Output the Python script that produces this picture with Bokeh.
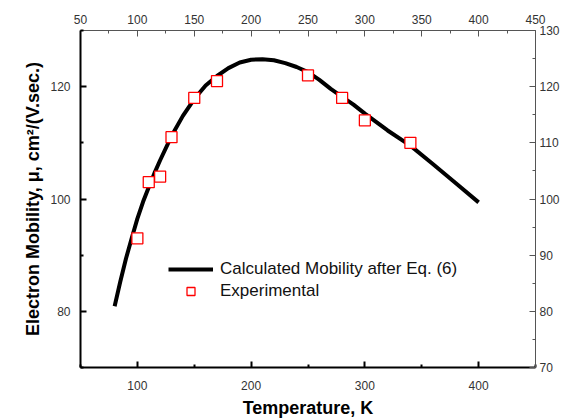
from bokeh.plotting import figure
from bokeh.models import LinearAxis, FixedTicker, Range1d, Legend, LegendItem
from bokeh.embed import file_html
from bokeh.resources import INLINE

# Calculated mobility curve (Eq. 6)
calc_T = [80, 85, 90, 95, 100, 105, 110, 115, 120, 130, 140, 150, 160, 170, 180, 190, 200,
          210, 220, 230, 240, 250, 260, 270, 280, 290, 300, 320, 340, 360, 380, 400]
calc_mu = [80.9, 85.3, 89.4, 93.0, 96.5, 99.5, 102.1, 104.6, 106.9, 111.2, 114.8, 117.8, 120.2,
           121.9, 123.3, 124.3, 124.8, 124.9, 124.7, 124.2, 123.5, 122.6, 121.2,
           119.6, 118.2, 116.8, 115.2, 112.2, 109.5, 106.2, 102.8, 99.4]

# Experimental points
exp_T = [100, 110, 120, 130, 150, 170, 250, 280, 300, 340]
exp_mu = [93, 103, 104, 111, 118, 121, 122, 118, 114, 110]

bottom_ticks = [100, 200, 300, 400]
bottom_minor = [50, 150, 250, 350, 450]
top_ticks = [50, 100, 150, 200, 250, 300, 350, 400, 450]
top_minor = [75, 125, 175, 225, 275, 325, 375, 425]
left_ticks = [80, 100, 120]
left_minor = [70, 90, 110, 130]
right_ticks = [70, 80, 90, 100, 110, 120, 130]
right_minor = [75, 85, 95, 105, 115, 125]

FONT = "Liberation Sans"

p = figure(width=564, height=420, x_range=Range1d(50, 450), y_range=Range1d(70, 130),
           output_backend="svg", toolbar_location=None,
           min_border_left=80, min_border_right=29, min_border_top=30, min_border_bottom=53)
p.grid.visible = False
p.outline_line_color = None
p.background_fill_color = "white"
p.border_fill_color = "white"

def style_axis(ax, major, minor, width, color, standoff):
    ax.ticker = FixedTicker(ticks=major, minor_ticks=minor)
    ax.axis_line_width = width
    ax.axis_line_color = color
    ax.major_tick_line_color = color
    ax.minor_tick_line_color = color
    ax.major_tick_line_width = width
    ax.minor_tick_line_width = width
    ax.major_tick_in = 6
    ax.major_tick_out = 0
    ax.minor_tick_in = 3
    ax.minor_tick_out = 0
    ax.major_label_text_font = FONT
    ax.major_label_text_font_size = "12px"
    ax.major_label_text_color = "#333333"
    ax.major_label_standoff = standoff

xb = p.xaxis[0]
style_axis(xb, bottom_ticks, bottom_minor, 2, "black", 13)
xb.axis_label = "Temperature, K"
xb.axis_label_text_font = FONT
xb.axis_label_text_font_style = "bold"
xb.axis_label_text_font_size = "18px"
xb.axis_label_text_color = "black"
xb.axis_label_standoff = 5

yl = p.yaxis[0]
style_axis(yl, left_ticks, left_minor, 2, "black", 10)
yl.axis_label = "Electron Mobility, μ, cm²/(V.sec.)"
yl.axis_label_text_font = FONT
yl.axis_label_text_font_style = "bold"
yl.axis_label_text_font_size = "18px"
yl.axis_label_text_color = "black"
yl.axis_label_standoff = 4

xt = LinearAxis()
style_axis(xt, top_ticks, top_minor, 1, "#555555", 7)
p.add_layout(xt, "above")

yr = LinearAxis()
style_axis(yr, right_ticks, right_minor, 1, "#555555", 4)
p.add_layout(yr, "right")

line_r = p.line(calc_T, calc_mu, line_color="black", line_width=4)
sq_r = p.scatter(exp_T, exp_mu, marker="square", size=11, fill_color="white",
                 line_color="red", line_width=1.3)

legend = Legend(items=[LegendItem(label="Calculated Mobility after Eq. (6)", renderers=[line_r]),
                       LegendItem(label="Experimental", renderers=[sq_r])],
                location=(88, 66), glyph_width=45, glyph_height=20, label_height=20,
                label_standoff=7, spacing=2, padding=0, margin=0,
                border_line_color=None, background_fill_alpha=0,
                label_text_font=FONT, label_text_font_size="17px", label_text_color="#111111")
p.add_layout(legend)

open("out.html", "w").write(file_html(p, INLINE))
